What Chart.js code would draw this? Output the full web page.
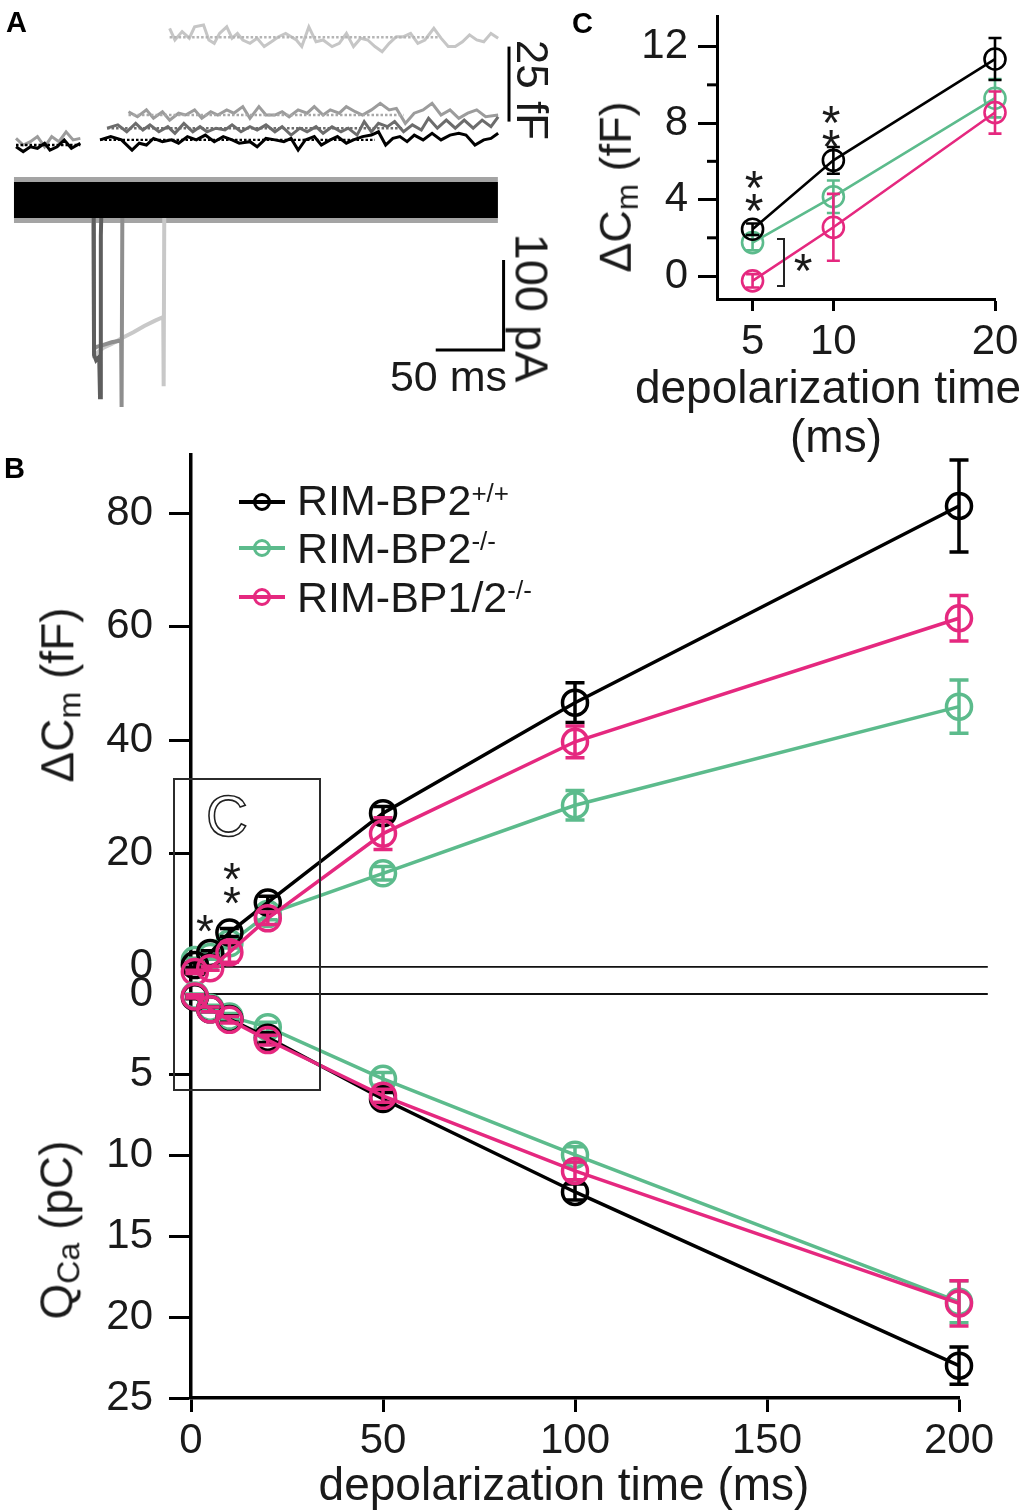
<!DOCTYPE html>
<html>
<head>
<meta charset="utf-8">
<script src="https://cdn.jsdelivr.net/npm/chart.js@4.4.1/dist/chart.umd.min.js"></script>
<style>
  body { margin: 0; background: #fff; }
  #page { position: relative; width: 1025px; height: 1511px; overflow: hidden; font-family: 'Liberation Sans', Arial, sans-serif; color: #1a1a1a; }
  canvas { position: absolute; }
  .t { position: absolute; white-space: nowrap; line-height: 1; }
  .panel { font-weight: bold; font-size: 29px; color: #000; }
  .rot { transform: translate(-50%, -50%) rotate(-90deg); }
  .rotcw { transform: translate(-50%, -50%) rotate(90deg); }
  .mid { transform: translateX(-50%); }
  sub { font-size: 0.7em; vertical-align: -0.22em; line-height: 1; }
  sup { font-size: 26px; vertical-align: 13px; line-height: 1; }
  .key { position: absolute; left: 239px; width: 46px; height: 0; }
  .key i { position: absolute; left: 0; top: -2px; width: 46px; height: 4px; }
  .key b { position: absolute; left: 14px; top: -9px; width: 18px; height: 18px; border: 3px solid; border-radius: 50%; box-sizing: border-box; }
  .star { position: absolute; line-height: 1; }
</style>
</head>
<body>
<div id="page">
  <canvas id="chartA" width="520" height="420" style="left:0;top:0"></canvas>
  <canvas id="chartC" width="465" height="470" style="left:560px;top:0"></canvas>
  <canvas id="chartB1" width="1025" height="554" style="left:0;top:440px"></canvas>
  <canvas id="chartB2" width="1025" height="567" style="left:0;top:944px"></canvas>

  <div class="t panel" style="left:6px;top:8px">A</div>
  <div class="t panel" style="left:4px;top:454px">B</div>
  <div class="t panel" style="left:572px;top:9px">C</div>

  <!-- panel A scale bar labels -->
  <div class="t rotcw" style="left:532px;top:90px;font-size:44px">25 fF</div>
  <div class="t rotcw" style="left:532px;top:308px;font-size:47px">100 pA</div>
  <div class="t" style="left:507px;top:355px;font-size:43px;transform:translateX(-100%)">50 ms</div>

  <!-- panel C labels -->
  <div class="t rot" style="left:618px;top:187px;font-size:45px">ΔC<sub>m</sub> (fF)</div>
  <div class="t mid" style="left:828px;top:364px;font-size:46px">depolarization time</div>
  <div class="t mid" style="left:836px;top:413px;font-size:46px">(ms)</div>
  <div style="position:absolute;left:777px;top:238px;width:6px;height:45px;border:2.5px solid #222;border-left:none"></div>

  <!-- panel B labels -->
  <div class="t rot" style="left:60px;top:695px;font-size:46px">ΔC<sub>m</sub> (fF)</div>
  <div class="t rot" style="left:59px;top:1230px;font-size:46px">Q<sub>Ca</sub> (pC)</div>
  <div class="t mid" style="left:564px;top:1461px;font-size:46px">depolarization time (ms)</div>
  <div style="position:absolute;left:173px;top:778px;width:148px;height:313px;border:2px solid #2b2b2b;box-sizing:border-box"></div>
  <div class="t" style="left:206px;top:787px;font-size:58px;color:transparent;-webkit-text-stroke:1.6px #222">C</div>

  <div class="key" style="top:502px"><i style="background:#000"></i><b style="border-color:#000"></b></div>
  <div class="key" style="top:548px"><i style="background:#5cbb8c"></i><b style="border-color:#5cbb8c"></b></div>
  <div class="key" style="top:597px"><i style="background:#e5287f"></i><b style="border-color:#e5287f"></b></div>
  <div class="t" style="left:297px;top:479px;font-size:43px">RIM-BP2<sup>+/+</sup></div>
  <div class="t" style="left:297px;top:527px;font-size:43px">RIM-BP2<sup>-/-</sup></div>
  <div class="t" style="left:297px;top:576px;font-size:43px">RIM-BP1/2<sup>-/-</sup></div>
</div>

<script>
const black = '#000000'
const green = '#5cbb8c'
const pink = '#e5287f'

// ---- panel B: depolarization time (ms), mean and SEM ----
const timesB = [1, 5, 10, 20, 50, 100, 200]
const cmWT = [0.3, 2.45, 6.05, 11.35, 27.1, 46.6, 81.3]
const cmWTErr = [0.4, 0.4, 0.7, 1.1, 1.2, 3.5, 8.1]
const cmKO2 = [1.2, 1.75, 4.15, 9.3, 16.5, 28.5, 45.9]
const cmKO2Err = [0.3, 0.4, 0.85, 1.0, 1.2, 2.6, 4.7]
const cmKO12 = [-0.9, -0.25, 2.55, 8.55, 23.5, 39.7, 61.5]
const cmKO12Err = [0.3, 0.35, 1.75, 1.1, 2.8, 2.8, 4.0]

const qWT = [0.2, 0.95, 1.55, 2.7, 6.5, 12.25, 23.0]
const qWTErr = [0.1, 0.15, 0.2, 0.3, 0.4, 0.5, 1.15]
const qKO2 = [0.1, 0.85, 1.4, 2.05, 5.25, 9.95, 19.05]
const qKO2Err = [0.1, 0.15, 0.2, 0.3, 0.4, 0.5, 1.3]
const qKO12 = [0.15, 0.95, 1.6, 2.85, 6.3, 10.95, 19.15]
const qKO12Err = [0.1, 0.15, 0.2, 0.3, 0.4, 0.55, 1.4]

const ticksCmB = [0, 20, 40, 60, 80]
const ticksQB = [0, 5, 10, 15, 20, 25]
const ticksTimeB = [0, 50, 100, 150, 200]
const zeroLineEnd = 207.5

// ---- panel C: zoom on 5, 10, 20 ms ----
const timesC = [5, 10, 20]
const cmWTC = [2.45, 6.05, 11.35]
const cmWTCErr = [0.3, 0.7, 1.1]
const cmKO2C = [1.75, 4.15, 9.3]
const cmKO2CErr = [0.4, 0.85, 1.0]
const cmKO12C = [-0.25, 2.55, 8.55]
const cmKO12CErr = [0.35, 1.75, 1.1]
const ticksCmC = [0, 4, 8, 12]
const minorCmC = [2, 6, 10]

// ---- panel A: example traces, time (ms) vs capacitance (fF) / current (pA) ----
const capPreBlack = [[1.5, -0.6], [6.8, -2.2], [12.1, -0.6], [17.3, -1.1], [22.6, 0.6], [26.5, -1.7], [31.8, -0.6], [37, 1.7], [42.3, -1.1], [48.9, 0.6]]
const capPreGray = [[1.5, 2.2], [6.8, 0], [12.1, 1.1], [17.3, 2.8], [22.6, -0.6], [27.8, 2.8], [33.1, 1.1], [38.4, 4.4], [43.6, 1.7], [48.9, 2.2]]
const capBlack = [[63.4, 1.7], [71.3, 2.8], [79.2, 1.7], [87, -1.7], [92.3, 0.6], [97.6, 0], [102.8, 2.2], [109.4, 1.1], [116, 1.7], [121.3, 0.6], [127.8, 2.8], [134.4, 1.7], [141, 3.3], [147.6, 1.1], [154.2, 2.8], [160.7, 1.7], [166, 0.6], [173.9, 1.1], [179.2, -0.6], [185.7, 2.2], [192.3, 1.7], [198.9, 1.1], [204.2, 2.2], [209.4, -1.7], [214.7, 1.7], [221.3, 2.8], [226.5, 0], [233.1, 1.7], [238.4, 2.8], [244.9, 0.6], [250.2, 1.7], [256.8, 2.8], [263.4, 3.3], [268.6, 4.4], [273.9, 0], [279.2, 2.2], [284.4, 2.8], [289.7, 1.1], [295, 3.3], [301.5, 1.7], [308.1, 3.9], [314.7, 1.7], [321.3, 3.3], [327.8, 3.9], [333.1, 3.3], [339.7, 0], [346.2, 1.7], [351.5, 2.2], [356.8, 3.9]]
const capDark = [[68.6, 5.6], [76.5, 6.7], [83.1, 4.4], [89.7, 7.2], [95, 5], [100.2, 6.7], [106.8, 4.4], [113.4, 6.1], [118.6, 3.9], [125.2, 7.2], [131.8, 4.4], [137.1, 6.1], [142.3, 4.4], [148.9, 5.6], [155.5, 5], [160.7, 6.7], [167.3, 4.4], [173.9, 6.1], [179.2, 5], [185.7, 6.7], [192.3, 4.4], [197.6, 6.1], [204.2, 3.3], [210.7, 5.6], [216, 4.4], [222.6, 6.1], [227.8, 3.9], [234.4, 6.1], [241, 4.4], [246.3, 5.6], [252.8, 3.3], [258.1, 7.8], [263.4, 4.4], [268.6, 7.2], [275.2, 6.1], [280.5, 7.8], [287.1, 4.4], [293.6, 6.7], [300.2, 5], [305.5, 8.9], [312, 5.6], [318.6, 8.3], [325.2, 5.6], [331.8, 8.3], [338.4, 5.6], [345, 8.3], [351.5, 6.1], [356.8, 9.4]]
const capGray = [[84.4, 11.1], [91, 9.4], [97.6, 11.7], [102.8, 8.9], [109.4, 11.1], [114.7, 8.3], [121.3, 10.6], [126.5, 10], [133.1, 11.7], [138.4, 8.9], [145, 11.1], [150.2, 10], [156.8, 11.7], [162, 10.6], [168.6, 12.8], [173.9, 8.9], [180.5, 12.8], [185.7, 10], [192.3, 10], [197.6, 11.1], [202.8, 9.4], [209.4, 11.7], [216, 10.6], [221.3, 12.8], [227.8, 10], [233.1, 11.7], [239.7, 10.6], [244.9, 12.8], [251.5, 11.1], [256.8, 10], [263.4, 11.7], [269.9, 13.9], [276.5, 11.7], [281.8, 12.2], [288.4, 7.2], [294.9, 10.6], [301.5, 11.7], [308.1, 13.9], [314.7, 10], [321.3, 11.7], [327.8, 8.9], [334.4, 10.6], [341, 11.7], [347.6, 9.4], [356.8, 10]]
const capLight = [[114.7, 38.9], [118.6, 35], [123.9, 37.8], [129.2, 35.6], [133.1, 39.4], [139.7, 40], [143.6, 35], [147.6, 33.9], [151.5, 37.2], [156.8, 39.4], [160.7, 35.6], [164.7, 37.2], [168.6, 35], [173.9, 33.9], [179.2, 35.6], [184.4, 32.8], [189.7, 34.4], [195, 36.1], [200.2, 37.2], [208.1, 35], [212.1, 32.8], [217.3, 39.4], [222.6, 34.4], [227.8, 35], [234.4, 32.8], [239.7, 33.9], [245, 37.2], [250.2, 32.8], [255.5, 35.6], [260.7, 35], [266, 32.8], [271.3, 31.1], [276.5, 33.9], [281.8, 36.1], [287.1, 36.1], [292.3, 37.2], [297.6, 33.9], [302.8, 35], [309.4, 38.9], [314.7, 35.6], [320, 32.8], [325.2, 32.8], [330.5, 34.4], [335.7, 36.7], [341, 35], [346.2, 34.4], [351.5, 37.2], [356.8, 35.6]]
const basePre = [[1.5, 0], [48.9, 0]]
const baseBlack = [[63.4, 1.7], [266, 1.7]]
const baseDark = [[68.6, 5.6], [287, 5.6]]
const baseGray = [[84.4, 10], [287, 10]]
const baseLight = [[114.7, 35.9], [313.4, 35.9]]

const currentBase = [[0, 0], [356.6, 0]]
const currentShort = [[58.7, 0], [59, -172], [60.5, -178], [62.8, -174], [63.4, -219], [64, -40], [64.6, 0]]
const currentMid = [[58.7, 0], [59, -165], [61, -163], [66, -161], [72, -158], [79, -156], [79.3, -230], [79.9, 0]]
const currentLong = [[58.7, 0], [59, -172], [61, -170], [66, -164], [72, -160], [80, -153], [88, -147], [96, -140], [104, -134], [110, -130], [110.3, -207], [110.8, 0]]

const barCap = [[364.8, 7.8], [364.8, 32.8]]
const barCurrent = [[310.8, -166.7], [360.8, -166.7], [360.8, -66.7]]

// error bars drawn with each dataset so that stacking order is kept
const errorBars = {
  id: 'errorBars',
  afterDatasetDraw(chart, args) {
    const ds = chart.data.datasets[args.index]
    if (!ds.errors) return
    const ctx = chart.ctx
    const yScale = chart.scales[args.meta.yAxisID]
    const w = ds.capWidth / 2
    ctx.save()
    ctx.strokeStyle = ds.borderColor
    ctx.lineWidth = ds.borderWidth
    args.meta.data.forEach((pt, i) => {
      const v = ds.data[i].y
      const top = yScale.getPixelForValue(v + ds.errors[i])
      const bot = yScale.getPixelForValue(v - ds.errors[i])
      ctx.beginPath()
      ctx.moveTo(pt.x, top)
      ctx.lineTo(pt.x, bot)
      ctx.moveTo(pt.x - w, top)
      ctx.lineTo(pt.x + w, top)
      ctx.moveTo(pt.x - w, bot)
      ctx.lineTo(pt.x + w, bot)
      ctx.stroke()
    })
    ctx.restore()
  },
}

const zeroLine = {
  id: 'zeroLine',
  beforeDatasetsDraw(chart, args, opts) {
    const ctx = chart.ctx
    const x = chart.scales.x
    const py = chart.scales.y.getPixelForValue(0)
    ctx.save()
    ctx.strokeStyle = '#111'
    ctx.lineWidth = 1.8
    ctx.beginPath()
    ctx.moveTo(x.getPixelForValue(0), py)
    ctx.lineTo(x.getPixelForValue(opts.end), py)
    ctx.stroke()
    ctx.restore()
  },
}

const minorTicks = {
  id: 'minorTicks',
  afterDraw(chart, args, opts) {
    const ctx = chart.ctx
    const y = chart.scales.y
    const left = chart.chartArea.left
    ctx.save()
    ctx.strokeStyle = '#000'
    ctx.lineWidth = 3
    opts.values.forEach(v => {
      const py = y.getPixelForValue(v)
      ctx.beginPath()
      ctx.moveTo(left - opts.length, py)
      ctx.lineTo(left, py)
      ctx.stroke()
    })
    ctx.restore()
  },
}

const series = (xs, ys, errs, color, order, style) => ({
  data: xs.map((x, i) => ({ x, y: ys[i] })),
  errors: errs,
  borderColor: color,
  backgroundColor: 'transparent',
  pointBorderColor: color,
  pointBackgroundColor: 'transparent',
  borderWidth: style.line,
  pointBorderWidth: style.line,
  pointRadius: style.radius,
  capWidth: style.cap,
  order,
  clip: false,
  tension: 0,
})

const tickColor = c => (c.tick && c.tick.value === 0 ? 'rgba(0,0,0,0)' : '#000')
const fixedTicks = list => s => { s.ticks = list.map(v => ({ value: v })) }
// fixed axis sizes, and no extra room reserved for edge labels
const yWidth = w => s => { s.width = w; s.paddingTop = 0; s.paddingBottom = 0 }
const xHeight = h => s => { s.height = h; s.paddingLeft = 0; s.paddingRight = 0 }
const font = size => ({ family: 'Liberation Sans', size })
const base = {
  responsive: false,
  animation: false,
  events: [],
}
const noPlugins = { legend: { display: false }, tooltip: { enabled: false } }
const pad = (top, right) => ({ autoPadding: false, padding: { top, right, bottom: 0, left: 0 } })

const bStyle = { line: 3.5, radius: 12.5, cap: 19 }
const cStyle = { line: 2.6, radius: 10.5, cap: 13 }

// B upper: membrane capacitance
new Chart(document.getElementById('chartB1'), {
  type: 'line',
  data: {
    datasets: [
      series(timesB, cmKO2, cmKO2Err, green, 3, bStyle),
      series(timesB, cmWT, cmWTErr, black, 2, bStyle),
      series(timesB, cmKO12, cmKO12Err, pink, 1, bStyle),
    ],
  },
  options: {
    ...base,
    layout: pad(15, 66),
    plugins: { ...noPlugins, zeroLine: { end: zeroLineEnd } },
    scales: {
      x: { type: 'linear', min: 0, max: 200, display: false },
      y: {
        min: -4.8,
        max: 90.3,
        afterFit: yWidth(191),
        afterBuildTicks: fixedTicks(ticksCmB),
        grid: { drawOnChartArea: false, tickLength: 22, tickWidth: 3, tickColor },
        border: { color: '#000', width: 3.5 },
        ticks: { font: font(42), color: '#1a1a1a', padding: 16 },
      },
    },
  },
  plugins: [errorBars, zeroLine],
})

// B lower: calcium charge, axis pointing down
new Chart(document.getElementById('chartB2'), {
  type: 'line',
  data: {
    datasets: [
      series(timesB, qKO2, qKO2Err, green, 3, bStyle),
      series(timesB, qWT, qWTErr, black, 2, bStyle),
      series(timesB, qKO12, qKO12Err, pink, 1, bStyle),
    ],
  },
  options: {
    ...base,
    layout: pad(50, 66),
    plugins: { ...noPlugins, zeroLine: { end: zeroLineEnd } },
    scales: {
      x: {
        type: 'linear',
        min: 0,
        max: 200,
        afterFit: xHeight(113),
        afterBuildTicks: fixedTicks(ticksTimeB),
        grid: { drawOnChartArea: false, tickLength: 14, tickWidth: 3, tickColor: '#000' },
        border: { color: '#000', width: 3.5 },
        ticks: { font: font(42), color: '#1a1a1a', padding: 4, maxRotation: 0 },
      },
      y: {
        reverse: true,
        min: 0,
        max: 25,
        afterFit: yWidth(191),
        afterBuildTicks: fixedTicks(ticksQB),
        grid: { drawOnChartArea: false, tickLength: 22, tickWidth: 3, tickColor },
        border: { color: '#000', width: 3.5 },
        ticks: { font: font(42), color: '#1a1a1a', padding: 16 },
      },
    },
  },
  plugins: [errorBars, zeroLine],
})

// C: inset of the short depolarizations
new Chart(document.getElementById('chartC'), {
  type: 'line',
  data: {
    datasets: [
      series(timesC, cmKO2C, cmKO2CErr, green, 3, cStyle),
      series(timesC, cmWTC, cmWTCErr, black, 2, cStyle),
      series(timesC, cmKO12C, cmKO12CErr, pink, 1, cStyle),
    ],
  },
  options: {
    ...base,
    layout: pad(16, 30),
    plugins: { ...noPlugins, minorTicks: { values: minorCmC, length: 10 } },
    scales: {
      x: {
        type: 'linear',
        min: 2.8,
        max: 20,
        afterFit: xHeight(171),
        afterBuildTicks: fixedTicks(timesC),
        grid: { drawOnChartArea: false, tickLength: 12, tickWidth: 3, tickColor: '#000' },
        border: { color: '#000', width: 3 },
        ticks: { font: font(42), color: '#1a1a1a', padding: 6, maxRotation: 0 },
      },
      y: {
        min: -1.2,
        max: 13.6,
        afterFit: yWidth(157),
        afterBuildTicks: fixedTicks(ticksCmC),
        grid: { drawOnChartArea: false, tickLength: 19, tickWidth: 3, tickColor: '#000' },
        border: { color: '#000', width: 3 },
        ticks: { font: font(42), color: '#1a1a1a', padding: 10 },
      },
    },
  },
  plugins: [errorBars, minorTicks],
})

// A: raw traces, listed bottom layer first
const trace = (pairs, color, width, yAxisID, dash) => ({
  data: pairs.map(([x, y]) => ({ x, y })),
  borderColor: color,
  borderWidth: width,
  borderDash: dash || [],
  borderCapStyle: 'butt',
  pointRadius: 0,
  yAxisID,
  tension: 0,
  clip: false,
})
const dots = [2.5, 2]
const layersA = [
  trace(capLight, '#c6c6c6', 3, 'yC'),
  trace(baseLight, '#b5b5b5', 2.4, 'yC', dots),
  trace(capGray, '#9c9c9c', 3, 'yC'),
  trace(baseGray, '#a8a8a8', 2.4, 'yC', dots),
  trace(capDark, '#6c6c6c', 3, 'yC'),
  trace(baseDark, '#6c6c6c', 2.4, 'yC', dots),
  trace(capPreGray, '#9c9c9c', 3, 'yC'),
  trace(capBlack, '#000', 3, 'yC'),
  trace(baseBlack, '#000', 2.4, 'yC', dots),
  trace(capPreBlack, '#000', 3, 'yC'),
  trace(basePre, '#000', 2.4, 'yC', dots),
  trace(currentBase, '#a4a4a4', 46, 'yI'),
  trace(currentLong, '#c8c8c8', 4, 'yI'),
  trace(currentMid, '#8e8e8e', 4, 'yI'),
  trace(currentShort, '#5e5e5e', 4, 'yI'),
  trace(currentBase, '#000', 36, 'yI'),
  trace(barCap, '#000', 3, 'yC'),
  trace(barCurrent, '#000', 3, 'yI'),
]
layersA.forEach((d, i) => { d.order = layersA.length - i })

new Chart(document.getElementById('chartA'), {
  type: 'line',
  data: { datasets: layersA },
  options: {
    ...base,
    layout: { autoPadding: false, padding: 0 },
    plugins: noPlugins,
    scales: {
      x: { type: 'linear', min: -10.3, max: 372.9, display: false },
      yC: { min: -91.67, max: 48.33, display: false },
      yI: { min: -244.4, max: 222.2, display: false },
    },
  },
})

// significance stars, placed over the charts
const starSpots = [[205, 920, 46], [232, 868, 46], [232, 892, 46], [754, 177, 48], [754, 200, 48], [831, 112, 48], [831, 136, 48], [803, 260, 48]]
const page = document.getElementById('page')
starSpots.forEach(([cx, cy, fs]) => {
  const s = document.createElement('div')
  s.className = 'star'
  s.textContent = '*'
  s.style.fontSize = fs + 'px'
  s.style.left = (cx - 0.195 * fs) + 'px'
  s.style.top = (cy - 0.27 * fs) + 'px'
  page.appendChild(s)
})
</script>
</body>
</html>
